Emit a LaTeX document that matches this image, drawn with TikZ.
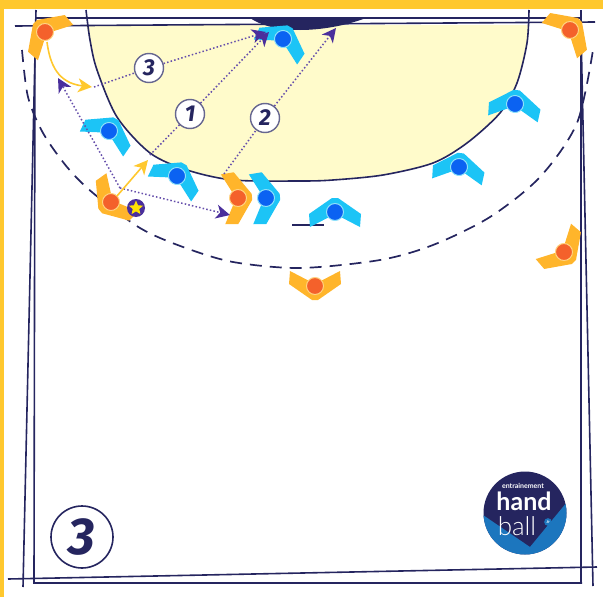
\documentclass[tikz,border=0pt]{standalone}
\usepackage{fontspec}
\setmainfont{Lato}
\newfontfamily\numfont{Fira Sans}
\newfontfamily\thinfont{Lato Light}
\usetikzlibrary{arrows.meta,shapes.geometric}
\definecolor{band}{HTML}{FFC82E}
\definecolor{navy}{HTML}{25255F}
\definecolor{zone}{HTML}{FFFBCB}
\definecolor{purp}{HTML}{4A2F9C}
\definecolor{bluearm}{HTML}{1CC4F6}
\definecolor{bluedot}{HTML}{0B62F2}
\definecolor{orgarm}{HTML}{FFB52B}
\definecolor{orgdot}{HTML}{F4612B}
\definecolor{logoblue}{HTML}{1C76BE}
\tikzset{
  pics/chevron/.style n args={3}{code={
    \fill[#1] (-3,-14) -- (3,-14) -- (26,2) -- (25,15) -- (0,2) -- (-25,15) -- (-26,2) -- cycle;
    \filldraw[fill=#2,draw=#3,line width=1pt] (0,0) circle[radius=8.5];
  }},
  court/.style={navy,line width=1.6pt},
  run/.style={purp!85!white,line width=1.5pt,dash pattern=on 1.5pt off 2.2pt},
  runtip/.style={-{Stealth[inset=4pt,length=14pt,width=14pt,color=purp]}},
  shot/.style={band,line width=1.6pt,-{Stealth[inset=4pt,length=14pt,width=14pt]}},
  numb/.style={circle,draw=navy!70!white,fill=white,line width=1.4pt,minimum size=29pt,inner sep=0pt,font=\numfont\bfseries\itshape\fontsize{23}{23}\selectfont,text=navy},
}
\begin{document}
\begin{tikzpicture}[x=1pt,y=-1pt]
  \useasboundingbox (0,0) rectangle (603,597);
  \fill[band] (0,0) rectangle (603,9);
  \fill[band] (0,0) rectangle (3.5,597);
  \fill[zone] plot[smooth] coordinates {(86,25) (90,40) (97,70) (117,117) (150,153) (187,170) (233,180) (300,181) (333,180) (383,175) (433,163) (467,143) (500,113) (517,83) (527,43) (529,25)} -- cycle;
  \draw[court] plot[smooth] coordinates {(86,10) (90,40) (97,70) (117,117) (150,153) (187,170) (233,180) (300,181) (333,180) (383,175) (433,163) (467,143) (500,113) (517,83) (527,43) (529,10)};
  \draw[court] (36,18) -- (582,18);
  \draw[court] (15,26) -- (595,22);
  \draw[court] (36,10) -- (23,587);
  \draw[court] (35,25) -- (34,583) -- (582,583);
  \draw[court] (581,10) -- (581,583);
  \draw[court] (581,30) -- (593,586);
  \draw[court] (8,579) -- (597,567);
  \fill[navy] (250,18) -- (366,18) .. controls (345,26) and (320,30) .. (300,30) .. controls (285,30) and (265,28) .. cycle;
  \draw[navy,line width=1.7pt,dash pattern=on 12pt off 8pt] plot[smooth] coordinates {(22,50) (28,97) (43,133) (67,167) (93,193) (140,228) (183,247) (233,262) (300,268) (380,260) (433,245) (490,217) (540,177) (577,123) (593,50)};
  \draw[navy,line width=1.6pt] (292,225) -- (324,225);

  \foreach \px/\py/\ang in {109/131/-30,177/176/-30,266/198/-85,283/39/-30,515/104/-8,459/167/-8,335/212/0}
    \pic[rotate=\ang] at (\px,\py) {chevron={bluearm}{bluedot}{bluearm!50!white}};
  \foreach \px/\py/\ang in {45/32/45,111/202/130,238/198/-85,315/286/180,564/252/-135,570/30/-45}
    \pic[rotate=\ang] at (\px,\py) {chevron={orgarm}{orgdot}{orgarm!60!white}};

  \node[circle,fill=purp,minimum size=18pt,inner sep=0pt] (ball) at (136,208) {};
  \node[star,star points=5,star point ratio=2.2,fill=yellow!85!orange,minimum size=15pt,inner sep=0pt] (ballstar) at (136,208) {};

  \node[numb] (one) at (190,114) {1};
  \node[numb] (two) at (265,118) {2};
  \node[numb] (three) at (149,68) {3};

  \coordinate (fork) at (120,188);
  \coordinate (wing) at (58,78);
  \coordinate (pivot) at (230,215);
  \coordinate (cutA) at (150,155);
  \coordinate (tipA) at (269,32);
  \coordinate (cutB) at (224,174);
  \coordinate (tipB) at (336,28);
  \coordinate (cutC) at (94,87);
  \coordinate (tipC) at (266,32);
  \coordinate (passA) at (117,196);
  \coordinate (passB) at (148,160);
  \coordinate (curlA) at (47,42);
  \coordinate (curlB) at (92,87);

  \draw[run,runtip] (fork) -- (wing);
  \draw[run,runtip] (fork) -- (pivot);
  \draw[run] (cutA) -- (one);
  \draw[run,runtip] (one) -- (tipA);
  \draw[run] (cutB) -- (two);
  \draw[run,runtip] (two) -- (tipB);
  \draw[run] (cutC) -- (three);
  \draw[run,runtip] (three) -- (tipC);
  \draw[shot] (passA) -- (passB);
  \draw[shot] (curlA) .. controls (50,65) and (58,83) .. (curlB);

  \node[circle,draw=navy,line width=1.6pt,minimum size=62pt,inner sep=0pt,text=navy,font=\numfont\bfseries\itshape\fontsize{52}{52}\selectfont] (period) at (82,537) {3};

  \node[circle,fill=navy,minimum size=83pt,inner sep=0pt] (logo) at (525,513) {};
  \begin{scope}
    \clip (525,513) circle[radius=41.5];
    \fill[logoblue] (483,515) -- (530,547) -- (567,502) -- (580,580) -- (470,580) -- cycle;
  \end{scope}
  \node[text=white,font=\bfseries\fontsize{7}{7}\selectfont,inner sep=0pt,anchor=base] (logotop) at (523,488.5) {entrainement};
  \node[text=white,font=\bfseries\fontsize{25}{25}\selectfont,inner sep=0pt,anchor=base] (logohand) at (524,510) {hand};
  \node[text=white,font=\thinfont\fontsize{26}{26}\selectfont,inner sep=0pt,anchor=base] (logoball) at (517,535) {ball};
  \node[circle,fill=logoblue,text=white,font=\bfseries\fontsize{4}{4}\selectfont,inner sep=1pt] (logofr) at (548,522) {.fr};
\end{tikzpicture}
\end{document}
